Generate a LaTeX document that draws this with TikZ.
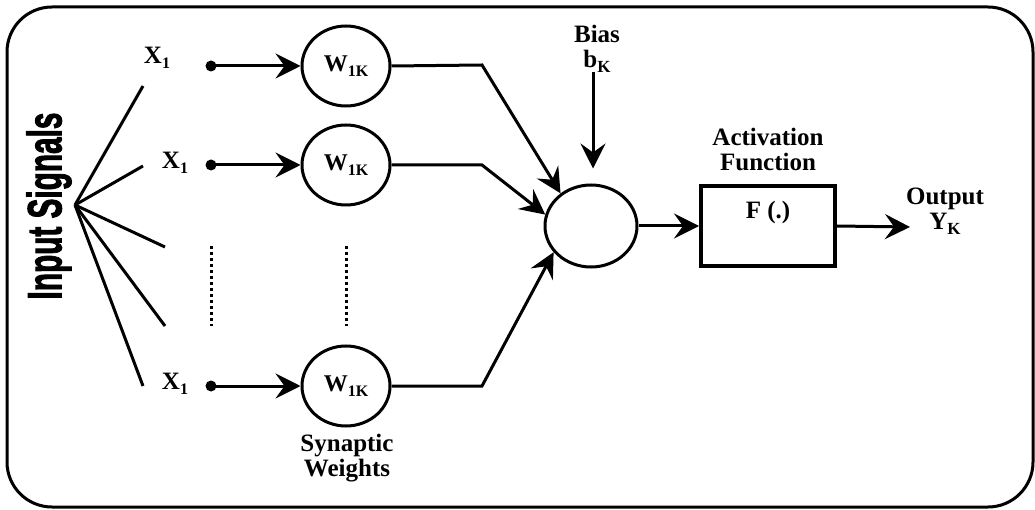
\documentclass[tikz,border=0pt]{standalone}
\usepackage{fontspec}
\setmainfont{Liberation Serif}
\newfontfamily\headfont[UprightFont={* Bold},UprightFeatures={FakeBold=2.5}]{Liberation Sans}
\usetikzlibrary{arrows.meta,shapes.geometric}
\newcommand\subtxt[2]{\raisebox{-0.22em}{\fontsize{#1}{#1}\selectfont #2}}
\begin{document}
\begin{tikzpicture}[x=1pt,y=-1pt,line width=3pt,
  arr/.style={-{Stealth[length=25pt,width=25pt,inset=9pt]}},
  lbl/.style={font=\fontsize{25}{27}\selectfont\bfseries,align=center,inner sep=0pt},
  xlbl/.style={font=\fontsize{25}{27}\selectfont\bfseries,inner sep=0pt},
  wnode/.style={draw,ellipse,minimum width=88pt,minimum height=80pt,inner sep=0pt,
    font=\fontsize{24}{26}\selectfont\bfseries},
  sumnode/.style={draw,ellipse,minimum width=92pt,minimum height=82pt,inner sep=0pt},
  fbox/.style={draw,rectangle,line width=4pt,minimum width=134pt,minimum height=80pt,inner sep=0pt},
  dotnode/.style={circle,fill,inner sep=0pt,minimum size=11pt},
  dotline/.style={dash pattern=on 3pt off 3pt}
]
\useasboundingbox (0,0) rectangle (1035,510);
% frame
\draw[rounded corners=45pt] (7,7) rectangle (1033,507);

% input signals label
\node[rotate=90,inner sep=0pt,font=\headfont\fontsize{48}{48}\selectfont] (insig) at (49,206)
  {\scalebox{0.62}[1]{Input Signals}};

% fan
\coordinate (fan) at (75,205);
\coordinate (f1) at (143,86);
\coordinate (f2) at (143,166);
\coordinate (f3) at (165,247);
\coordinate (f4) at (165,326);
\coordinate (f5) at (143,386);
\foreach \i in {1,...,5} \draw (fan) -- (f\i);

% x labels
\node[xlbl] (x1) at (157,58) {X\subtxt{16}{1}};
\node[xlbl] (x2) at (175,163) {X\subtxt{16}{1}};
\node[xlbl] (x3) at (175,384) {X\subtxt{16}{1}};

% dots
\node[dotnode] (d1) at (211,66) {};
\node[dotnode] (d2) at (211,165) {};
\node[dotnode] (d3) at (211,386) {};

% weight ellipses
\node[wnode] (w1) at (346,66) {W\subtxt{16}{1K}};
\node[wnode] (w2) at (346,165) {W\subtxt{16}{1K}};
\node[wnode] (w3) at (346,386) {W\subtxt{16}{1K}};

\draw[arr] (d1.center) -- (w1.west);
\draw[arr] (d2.center) -- (w2.west);
\draw[arr] (d3.center) -- (w3.west);

% dotted lines
\coordinate (va1) at (211,246); \coordinate (vb1) at (211,326);
\coordinate (va2) at (346,246); \coordinate (vb2) at (346,326);
\draw[dotline] (va1) -- (vb1);
\draw[dotline] (va2) -- (vb2);

% synaptic weights label
\node[lbl] (syn) at (347,458) {Synaptic\\[-2pt]Weights};

% summing node
\node[sumnode] (sum) at (591,226) {};

\coordinate (b1) at (482,65);
\coordinate (b2) at (482,165);
\coordinate (b3) at (482,386);
\draw[arr] (w1.east) -- (b1) -- (sum.133);
\draw[arr] (w2.east) -- (b2) -- (sum.166);
\draw[arr] (w3.east) -- (b3) -- (sum.215);

% bias
\node[lbl] (bias) at (597,49) {Bias\\[-2pt]b\subtxt{17}{K}};
\coordinate (biastop) at (593,72);
\draw[arr,shorten >=15pt] (biastop) -- (sum.north -| biastop);

% activation
\node[fbox] (act) at (768,226) {};
\node[lbl] (ftxt) at (768,212) {F (.)};
\node[lbl] (actl) at (768,149) {Activation\\[-2pt]Function};
\draw[arr] (sum.east) -- (act.west);

% output
\coordinate (outend) at (910,227);
\draw[arr] (act.east) -- (outend);
\node[lbl] (out) at (945,211) {Output\\[-2pt]Y\subtxt{17}{K}};
\end{tikzpicture}
\end{document}
